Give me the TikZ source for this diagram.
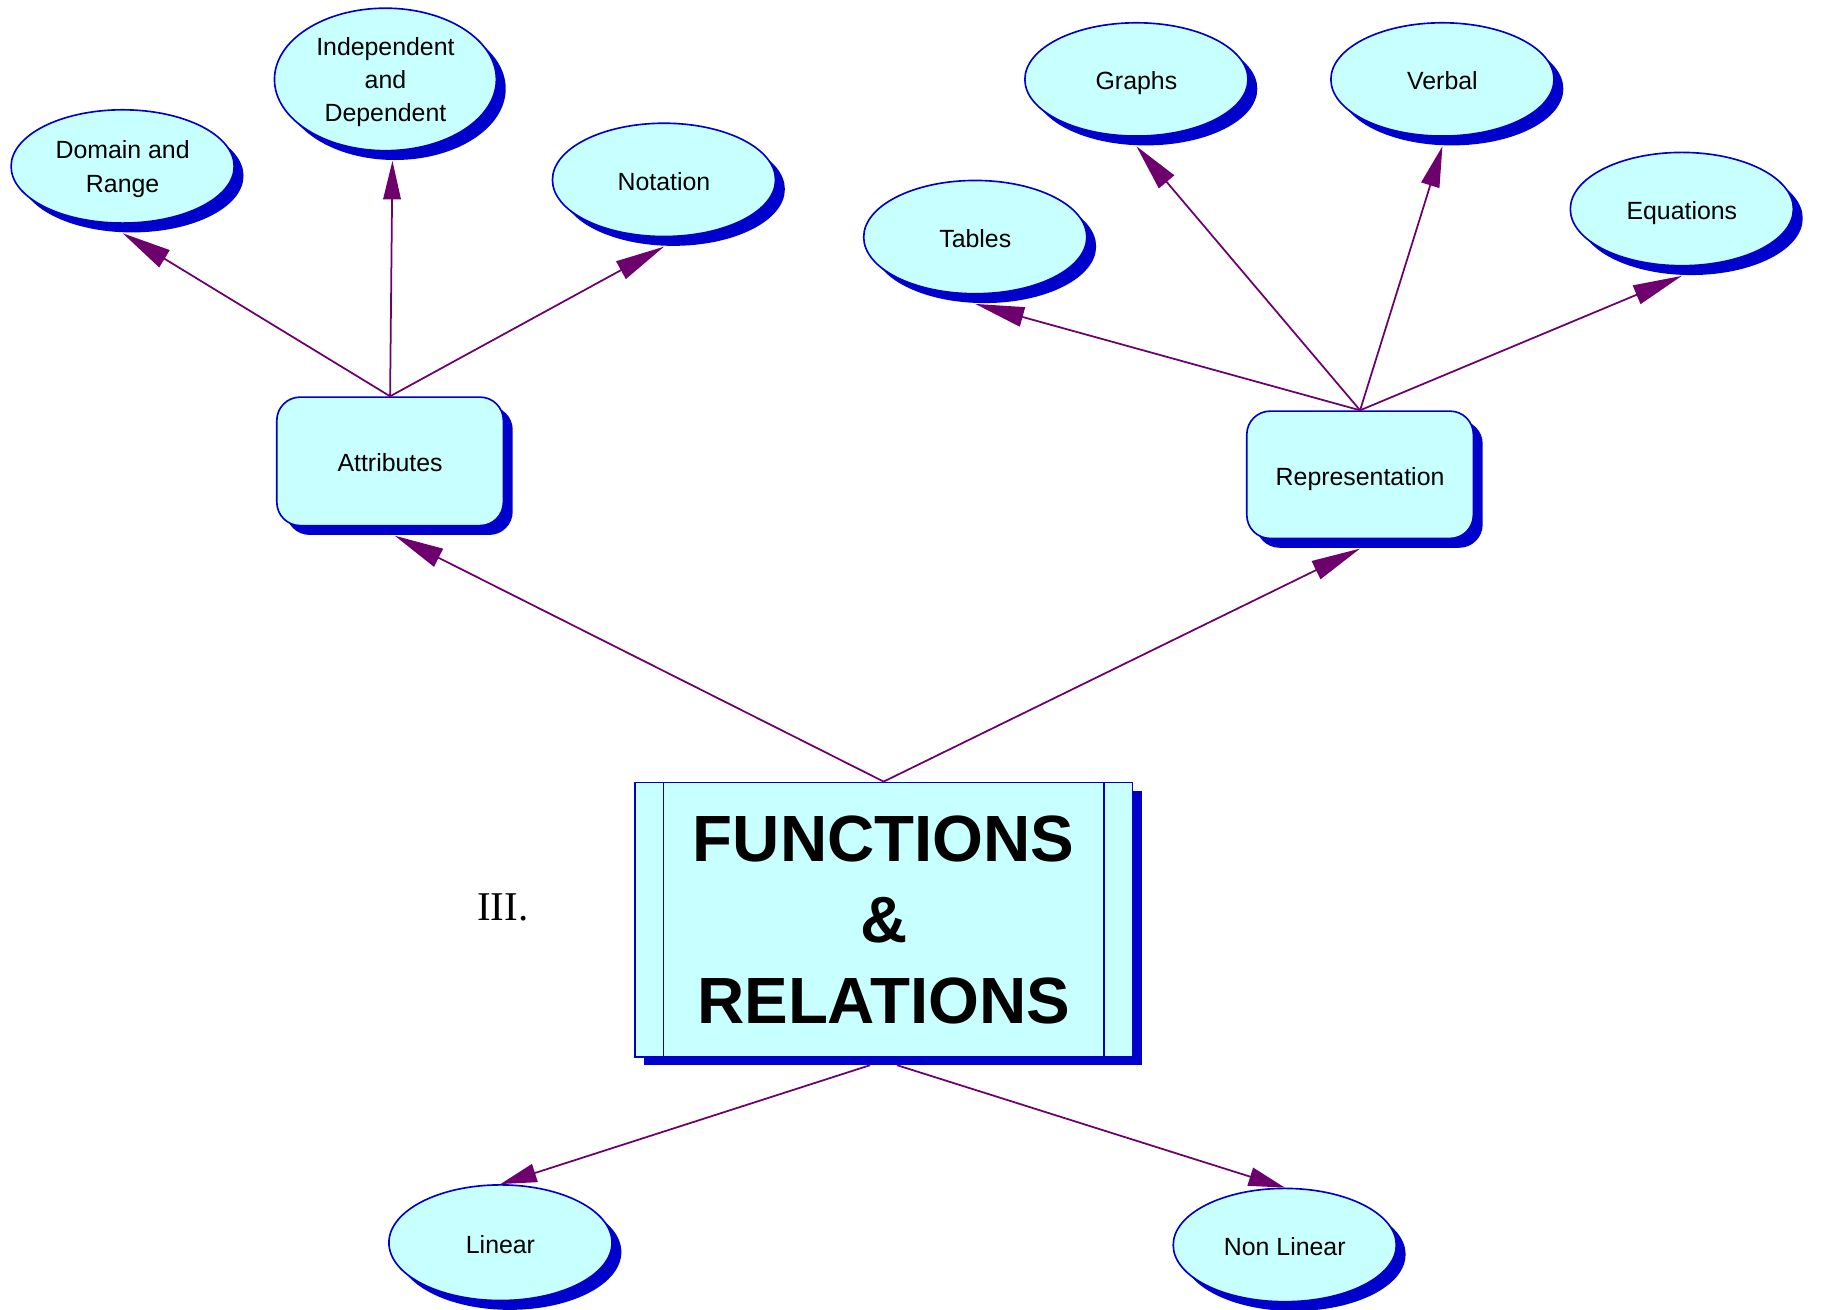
\documentclass[tikz,border=0pt]{standalone}
\usepackage{fontspec}
\setmainfont{Liberation Sans}
\newfontfamily\timesfont{Liberation Serif}
\usetikzlibrary{shapes.geometric,arrows.meta}
\definecolor{fillc}{HTML}{C8FFFF}
\definecolor{edgec}{HTML}{0000CC}
\definecolor{arrc}{HTML}{6E006E}
\begin{document}
\begin{tikzpicture}[x=1pt,y=1pt,
  ell/.style={ellipse, draw=edgec, line width=1.4pt, fill=fillc, minimum width=191pt, minimum height=97pt, inner sep=0pt, align=center, text depth=0pt, font=\fontsize{21.3}{28.5}\selectfont, execute at begin node=\rule{0pt}{18pt}},
  ellsh/.style={ellipse, fill=edgec, minimum width=191pt, minimum height=97pt, inner sep=0pt},
  rbox/.style={rectangle, rounded corners=20pt, draw=edgec, line width=1.4pt, fill=fillc, minimum width=194pt, minimum height=110pt, inner sep=0pt, text depth=0pt, font=\fontsize{21.3}{28.5}\selectfont, execute at begin node=\rule{0pt}{18pt}},
  rboxsh/.style={rectangle, rounded corners=20pt, fill=edgec, minimum width=194pt, minimum height=110pt, inner sep=0pt},
  arr/.style={draw=arrc, line width=1.5pt, -{Triangle[length=#1]}, arrc},
  arr/.default={42pt,width=17pt}
]
\useasboundingbox (0,0) rectangle (1560,-1121.6);

% ---- shadows ----
\node[ellsh] (drs) at (113,-150.5) {};
\node[ellsh, minimum width=190pt, minimum height=122pt] (inds) at (338,-76) {};
\node[ellsh] (notas) at (576.5,-162) {};
\node[ellsh] (tabs) at (843,-211) {};
\node[ellsh] (grs) at (981,-76) {};
\node[ellsh] (verbs) at (1243,-76) {};
\node[ellsh] (eqs) at (1448,-187) {};
\node[ellsh, minimum height=99pt] (lins) at (436.5,-1072) {};
\node[ellsh] (nonlins) at (1108,-1074) {};
\node[rboxsh] (attrs) at (342,-403) {};
\node[rboxsh, minimum height=109pt] (reps) at (1172.5,-414.5) {};
\node[rectangle, fill=edgec, minimum width=426pt, minimum height=235pt, inner sep=0pt] (frels) at (764.6,-794.4) {};

% ---- main nodes ----
\node[ell] (dr) at (105,-142.5) {Domain and\\Range};
\node[ell, minimum width=190pt, minimum height=122pt] (ind) at (330,-68) {Independent\\and\\Dependent};
\node[ell] (nota) at (568.5,-154) {Notation};
\node[ell] (tab) at (835,-203) {Tables};
\node[ell] (gr) at (973,-68) {Graphs};
\node[ell] (verb) at (1235,-68) {Verbal};
\node[ell] (eq) at (1440,-179) {Equations};
\node[ell, minimum height=99pt] (lin) at (428.5,-1064) {Linear};
\node[ell] (nonlin) at (1100,-1066) {Non Linear};
\node[rbox] (attr) at (334,-395) {Attributes};
\node[rbox, minimum height=109pt] (rep) at (1164.5,-406.5) {Representation};
\node[rectangle, draw=edgec, line width=1.4pt, fill=fillc, minimum width=426pt, minimum height=235pt, inner sep=0pt, align=center, font=\fontsize{56}{69.4}\selectfont\bfseries] (frel) at (756.6,-787.4) {FUNCTIONS\\\&\\RELATIONS};
\draw[edgec, line width=1.2pt] ([xshift=25pt]frel.north west) -- ([xshift=25pt]frel.south west);
\draw[edgec, line width=1.2pt] ([xshift=-25pt]frel.north east) -- ([xshift=-25pt]frel.south east);

\node[font=\timesfont\fontsize{35}{40}\selectfont] (num) at (430.5,-777) {III.};

% ---- connectors ----
\coordinate (fb1) at (745,-912);
\coordinate (fb2) at (768,-912);
\draw[arr] (attr.north) -- ([yshift=-8pt]dr.south);
\draw[arr={33pt,width=15pt}] (attr.north) -- ([xshift=6pt,yshift=-8pt]ind.south);
\draw[arr] (attr.north) -- ([yshift=-8pt]nota.south);
\draw[arr] (rep.north) -- ([yshift=-8pt]tab.south);
\draw[arr={40pt,width=17pt}] (rep.north) -- ([yshift=-8pt]gr.south);
\draw[arr={35pt,width=16pt}] (rep.north) -- ([yshift=-8pt]verb.south);
\draw[arr] (rep.north) -- ([yshift=-8pt]eq.south);
\draw[arr] (frel.north) -- ([xshift=4pt,yshift=-8pt]attr.south);
\draw[arr] (frel.north) -- ([yshift=-8pt]rep.south);
\draw[arr={31pt,width=16pt}] (fb1) -- (lin.north);
\draw[arr={31pt,width=16pt}] (fb2) -- (nonlin.north);
\end{tikzpicture}
\end{document}
